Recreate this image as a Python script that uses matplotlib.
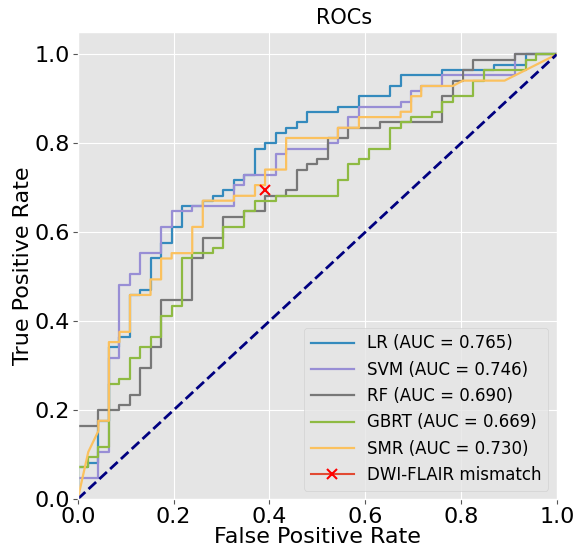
import matplotlib
matplotlib.use('Agg')
import matplotlib.pyplot as plt

########## ROC curve points (fpr / tpr) #################
lr_fpr = [0, 0, .022, .022, .043, .043, .065, .065, .087, .087, .109, .109, .130, .130,
          .152, .152, .174, .174, .196, .196, .217, .217, .261, .261, .283, .283, .304, .304,
          .326, .326, .348, .348, .370, .370, .391, .391, .413, .413, .435, .435, .457, .457,
          .478, .478, .543, .543, .587, .587, .652, .652, .674, .674, .761, .761, .870, .870,
          .935, .935, 1]
lr_tpr = [0, .071, .071, .082, .082, .176, .176, .341, .341, .365, .365, .459, .459, .471,
          .471, .541, .541, .576, .576, .612, .612, .659, .659, .671, .671, .682, .682, .694,
          .694, .718, .718, .729, .729, .788, .788, .800, .800, .824, .824, .835, .835, .847,
          .847, .871, .871, .882, .882, .906, .906, .929, .929, .953, .953, .965, .965, .976,
          .976, 1, 1]

svm_fpr = [0, 0, .043, .043, .065, .065, .087, .087, .109, .109, .130, .130, .174, .174,
           .196, .196, .239, .239, .326, .326, .348, .348, .413, .413, .435, .435, .522, .522,
           .543, .543, .565, .565, .587, .587, .674, .674, .696, .696, .717, .717, .761, .761,
           .913, .913, 1]
svm_tpr = [0, .047, .047, .106, .106, .318, .318, .482, .482, .506, .506, .553, .553, .612,
           .612, .647, .647, .659, .659, .706, .706, .729, .729, .776, .776, .788, .788, .800,
           .800, .835, .835, .859, .859, .882, .882, .894, .894, .918, .918, .929, .929, .953,
           .953, 1, 1]

rf_fpr = [0, 0, .043, .043, .087, .087, .109, .109, .130, .130, .152, .152, .174, .174,
          .239, .239, .261, .261, .304, .304, .348, .348, .391, .391, .435, .435, .457, .457,
          .478, .478, .500, .500, .522, .522, .565, .565, .630, .630, .761, .761, .783, .783,
          .804, .804, .826, .826, .913, .913, 1]
rf_tpr = [0, .165, .165, .200, .200, .212, .212, .235, .235, .294, .294, .341, .341, .447,
          .447, .541, .541, .588, .588, .635, .635, .647, .647, .682, .682, .694, .694, .741,
          .741, .753, .753, .765, .765, .812, .812, .835, .835, .847, .847, .906, .906, .941,
          .941, .965, .965, .988, .988, 1, 1]

gb_fpr = [0, 0, .022, .022, .043, .043, .065, .065, .087, .087, .109, .109, .130, .130,
          .152, .152, .174, .174, .196, .196, .217, .217, .239, .239, .283, .283, .304, .304,
          .348, .348, .370, .370, .413, .413, .543, .543, .565, .565, .587, .587, .609, .609,
          .652, .652, .674, .674, .696, .696, .739, .739, .761, .761, .783, .783, .826, .826,
          .848, .848, .935, .935, .957, .957, 1]
gb_tpr = [0, .071, .071, .094, .094, .118, .118, .259, .259, .271, .271, .318, .318, .341,
          .341, .365, .365, .412, .412, .435, .435, .541, .541, .553, .553, .565, .565, .612,
          .612, .647, .647, .671, .671, .682, .682, .718, .718, .753, .753, .765, .765, .788,
          .788, .835, .835, .847, .847, .859, .859, .871, .871, .894, .894, .906, .906, .941,
          .941, .965, .965, .988, .988, 1, 1]

smr_fpr = [0, .022, .043, .043, .065, .065, .087, .087, .109, .109, .152, .152, .174, .174,
           .196, .196, .239, .239, .261, .261, .326, .326, .370, .370, .391, .391, .435, .435,
           .543, .543, .587, .587, .674, .674, .696, .696, .717, .717, .783, .804, .891, 1]
smr_tpr = [0, .106, .153, .176, .176, .353, .353, .376, .376, .459, .459, .494, .494, .541,
           .541, .553, .553, .612, .612, .671, .671, .682, .682, .706, .706, .741, .741, .812,
           .812, .835, .835, .859, .859, .871, .871, .906, .906, .929, .929, .941, .941, 1]

names = ['LR', 'SVM', 'RF', 'GBRT', 'SMR']
aucs = [0.765, 0.746, 0.690, 0.669, 0.730]
colors = ['#348ABD', '#988ED5', '#777777', '#8EBA42', '#FBC15E']

# DWI-FLAIR mismatch operating point
mm_fpr = [0.391]
mm_tpr = [0.694]

############## plotting #####################
plt.style.use('ggplot')
fig = plt.figure(figsize=(5.76, 5.46), dpi=100)
ax = fig.add_axes([0.135, 0.086, 0.8316, 0.8551])

curves = [(lr_fpr, lr_tpr), (svm_fpr, svm_tpr), (rf_fpr, rf_tpr),
          (gb_fpr, gb_tpr), (smr_fpr, smr_tpr)]
for (f, t), name, auc, c in zip(curves, names, aucs, colors):
    ax.plot(f, t, color=c, lw=1.6, label='%s (AUC = %0.3f)' % (name, auc))

ax.plot(mm_fpr, mm_tpr, color='#E24A33', marker='x', markersize=7, mew=1.5,
        mec='red', label='DWI-FLAIR mismatch')
ax.plot([0, 1], [0, 1], color='navy', lw=2, linestyle='--')

ax.set_xlim([0.0, 1.0])
ax.set_ylim([0.0, 1.05])
ax.set_xticks([0, 0.2, 0.4, 0.6, 0.8, 1.0])
ax.set_yticks([0, 0.2, 0.4, 0.6, 0.8, 1.0])
ax.tick_params(labelsize=16, labelcolor='black', pad=2)
ax.set_xlabel('False Positive Rate', fontsize=16, color='black', labelpad=0)
ax.set_ylabel('True Positive Rate', fontsize=16, color='black', labelpad=1)
ax.set_title('ROCs', fontsize=15, color='black', x=0.555)
ax.legend(loc='lower right', fontsize=12, handlelength=2.6)

fig.savefig('out.png', dpi=100)
